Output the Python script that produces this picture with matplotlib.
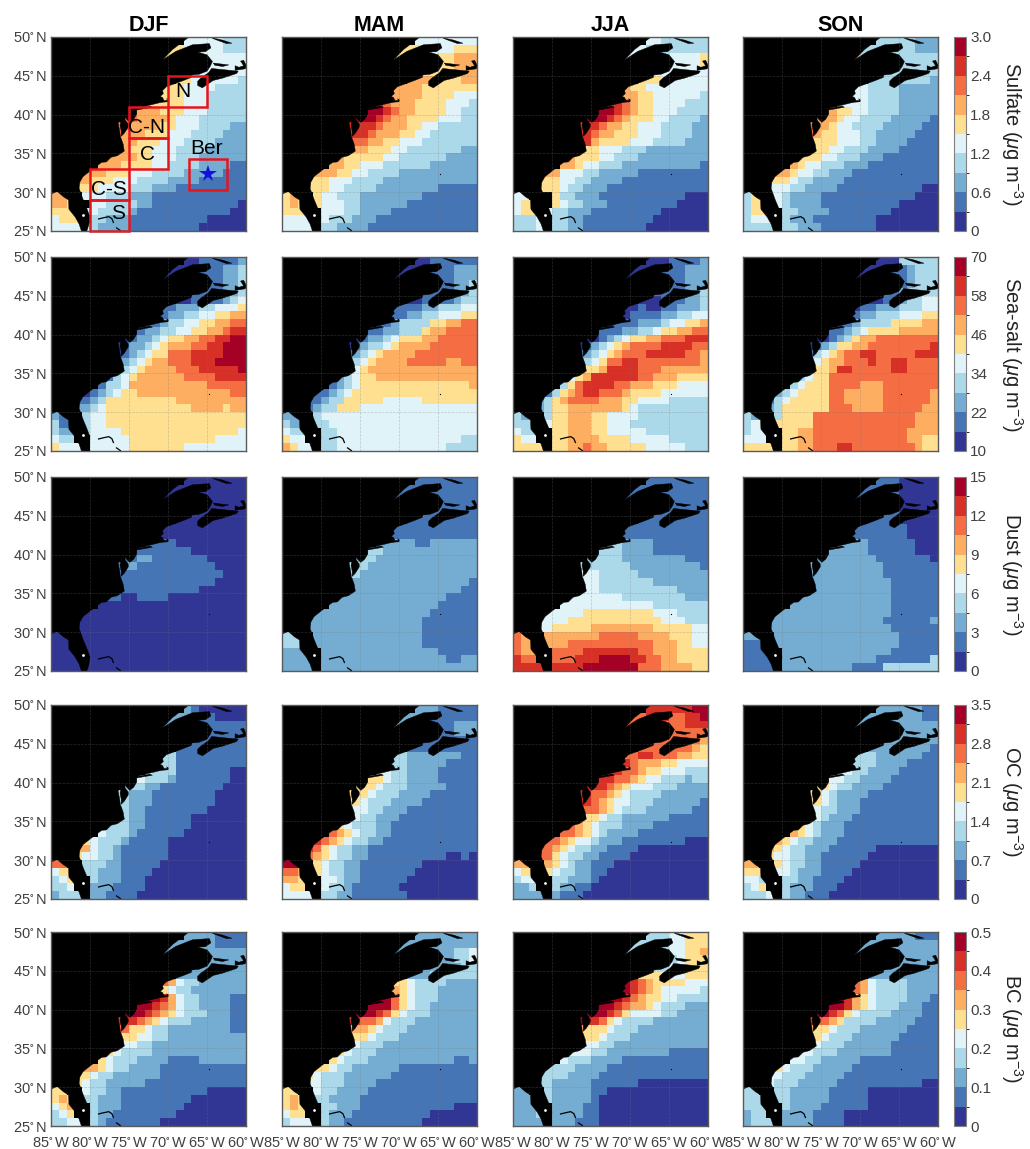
import numpy as np
import matplotlib
matplotlib.use('Agg')
import matplotlib.pyplot as plt
from matplotlib.colors import ListedColormap, BoundaryNorm
from matplotlib.patches import Polygon, Rectangle
from matplotlib.cm import ScalarMappable

plt.rcParams['font.family'] = ['Liberation Sans', 'DejaVu Sans']
plt.rcParams['mathtext.fontset'] = 'custom'
plt.rcParams['mathtext.rm'] = 'Liberation Sans'
plt.rcParams['mathtext.it'] = 'Liberation Sans:italic'
plt.rcParams['mathtext.default'] = 'regular'

# each row is one degree of latitude from 50N down, right aligned at 60W,
# each digit is the colour class read from the map, "." is land
sulfate_djf = ["44444333", "5544444333", "55544444444", "4444444", "4444444", "554444443", "55544443333",
               "555544433333", "5555544433333", "766655544433333", "7766665444333333", "77666655444333322",
               "76665554443333222", "66655544433332222", "66555444333322222", "666655444333222222",
               "6665555443333222211", "666555444333322222111", "6655544433332222111111",
               "5554444333222111111111", "665.444333222111111111111", "665.44333322111111111110",
               "555.4433332111111111111" + "00", "4555.33222111111111100000", "44444322221111111110" + "00000"]
sulfate_mam = ["44444444", "5554444555", "55555555666", "5555666", "5555666", "666655566", "66665555555",
               "666665555444", "8766655554443", "999876655554433", "9998766555544433", "88887666554433333",
               "88876665544333333", "87766554443333333", "66655544333333322", "655555443333332222",
               "6655444333333222222", "666554433332222222222", "5554443333222222222222",
               "5554433332222222211111", "565.54433322222222" + "1111111", "565.5444332222221" + "11111111",
               "555..44433222211111111111", "4444.43332221111111111111", "4444.33222211111111111111"]
sulfate_jja = ["44333333", "4433333333", "44433344445", "4444445", "4444444", "555444444", "65544444444",
               "666554444443", "8876554444333", "999876554443333", "9998765554433332", "88876655444333322",
               "88766555444333322", "88655554443333222", "55544433322222222", "655544333222222222",
               "6654433322222222221", "664443322222111111111", "5554433222211111111111",
               "5554332221111111111111", "44..53322211111111111" + "000", "455.5433222111111111" + "0000",
               "455..433222" + "111111111" + "000000", "3334.33221111111110000000", "3334.33221111111100000000"]
sulfate_son = ["33333222", "3333333222", "53333333333", "3333333", "3333333", "333333332", "44333322222",
               "444333322222", "5444333322222", "665544333322222", "6665443333222221", "76654433332222211",
               "76554443322222111", "65554443322221111", "55544333222211111", "55544333222" + "1111111",
               "6544333222111111111", "665443322211111111111", "5554332222111111111111",
               "44433222211111111111" + "00", "355.4432222111111111111" + "000", "355.44322221111111111" + "00000",
               "355..33222211111111" + "000000", "3444.32221111111100000000", "3333.33222111111100000000"]

seasalt_djf = ["00111112", "0001111223", "00011111223", "1111223", "1111223", "001111234", "11222334445",
               "112233445566", "1123344556677", "112233445566788", "0122345566778899", "01223456667788999",
               "01234557778888999", "12345667778889999", "23456666777888889", "134566666677778888",
               "1334666666666677777", "012345566666666666677", "1123555555555666666666",
               "2234555555555556666566", "211.344" + "5" * 18, "311.344" + "5" * 18,
               "322.34444" + "5" * 15 + "4", "433..44444" + "5" * 11 + "4444", "5444.44444" + "5" * 7 + "4" * 8]
seasalt_mam = ["00111111", "0001111222", "00011111222", "1111223", "1111223", "001111233", "11112233344",
               "111223344455", "1123333556677", "011223335667777", "0122345556677777", "01233456666777777",
               "12345666" + "6" + "77777777", "23456666777776677", "34566666666666666", "234556666666666666",
               "1234555" + "5" * 11 + "6", "112345555555555555555", "1123355555" + "44444" + "5555555",
               "1233555" + "4" * 15, "221.3" + "4" * 20, "322.33" + "4" * 19, "433..33" + "4" * 18,
               "544..33" + "4" * 16 + "33", "6544.33" + "4" * 14 + "3333"]
seasalt_jja = ["00011112", "0001111222", "00011111222", "1111222", "1111223", "000111223", "00100112223",
               "001111223344", "0111222344556", "011122334556677", "0012345566777888", "01234567777888877",
               "12345677788888776", "23457788777777776", "55568888777666666", "456888888776665555",
               "3578888776665554444", "135678877765555444444", "2356777766655444433333",
               "2355666666654" + "333333333", "322.3556665544443" + "33333333", "333.455666554443" + "333333333",
               "433..556665544444" + "33333333", "544..5566665555444443" + "3333", "5555.556676655555444443" + "33"]
seasalt_son = ["00033333", "0001112333", "00011112333", "1112333", "1123333", "001123344", "01122233344",
               "012233344455", "1123333555566", "011234555566666", "0012356677777777", "01235566777777778",
               "13456778877777888", "24566777877887777", "45568877777887777", "3455" + "7" * 14,
               "34555" + "7777" + "666" + "7" * 7, "2345555" + "77" + "66666" + "7" * 6 + "6",
               "13455555" + "77" + "66666" + "7" * 6 + "6", "23555555" + "777" + "6666" + "77777" + "66",
               "322.35555" + "7" * 13 + "666", "344.55555" + "7" * 13 + "666", "344..5566" + "7" * 12 + "6666",
               "444..5566" + "7" * 12 + "6655", "5555.5566" + "777" + "88" + "7" * 8 + "655"]

dust_djf = ["0" * 8, "0" * 10, "0" * 11, "0" * 7, "0" * 7, "0" * 9, "0" * 11, "0" * 12, "1111000000000",
            "111111110000000", "1122111111100000", "12211111111110000", "11111111111111000", "11111111111110000",
            "11111111111000000", "110011110000000000", "0" * 19, "0" * 21, "0" * 22, "0" * 22, "0" * 25,
            "0" * 25, "0" * 25, "0" * 25, "0" * 25]
dust_mam = ["1" * 8, "1" * 10, "1" * 11, "1" * 7, "1" * 7, "1" * 9, "1" * 11, "1" * 12, "2222211222222",
            "233" + "2" * 12, "233" + "2" * 13, "333" + "2" * 14, "33" + "2" * 15, "2" * 16 + "1", "2" * 15 + "11",
            "2" * 14 + "1111", "2" * 14 + "11111", "2" * 15 + "111111", "2" * 15 + "1111111", "2" * 15 + "1111111",
            "333." + "2" * 14 + "1" * 7, "333." + "2" * 14 + "1" * 7, "222.." + "2" * 15 + "11111",
            "2222." + "2" * 16 + "1122", "2222." + "2" * 20]
dust_jja = ["1" * 8, "1" * 10, "1" * 11, "1" * 7, "1" * 7, "1" * 9, "1" * 11, "1" * 12, "3322221111111",
            "333322221111111", "3333322222222111", "33333332222222221", "44433333222222222",
            "44433333332222222", "44433333333332222", "444444433333333222", "4" * 12 + "3" * 7,
            "44444" + "5" * 9 + "4443333", "4444" + "5" * 12 + "444333", "4455555" + "66666666" + "5555544",
            "766." + "6" * 7 + "77777" + "6666" + "55544", "766.666" + "7" * 11 + "666" + "5544",
            "766..7777" + "8" * 7 + "77" + "666" + "5555", "877..777888" + "9999" + "88" + "77" + "66" + "5555",
            "8888.8888" + "9" * 7 + "777" + "6666" + "55"]
dust_son = ["11100000", "1111100000", "11111100000", "1100000", "1100000", "111100000", "11111110000",
            "111111110000", "2222111111000", "222222111111000", "2222222211111110", "22222222221111111",
            "22222222221111111", "22222222222111111", "22222222222111111", "222222222222111111",
            "2222222222222111111", "222222222222222111111", "2222222222222221111112",
            "2222222222222222111111", "222." + "2" * 16 + "11111", "111." + "2" * 16 + "11111",
            "111.." + "2" * 14 + "111111", "1111." + "2" * 12 + "11111113", "1111." + "2" * 9 + "1111" + "3333333"]

oc_djf = ["21000000", "2221110000", "22211111111", "1111111", "1111111", "111111111", "33111111111",
          "333111111111", "4333111111100", "443332111111100", "3332211111111000", "33222111111110000",
          "33222111111110000", "33221111111100000", "33221111110000000", "333221111110000000",
          "4333211111100000000", "543332111110000000000", "6643321111110000000000",
          "5443321111110000000000", "77..33322111110000000" + "0000", "455.3322211110000000" + "00000",
          "345..3222111" + "0" * 13, "334..222" + "1111" + "0" * 13, "2333.221111" + "0" * 14]
oc_mam = ["22211111", "2221111111", "22211111222", "1111222", "1111111", "111111111", "33222222211",
          "333222221111", "4433222211111", "555433222211111", "5554333222221111", "55543332222111111",
          "55433322221111111", "54433222111111111", "54332221111111111", "543332211111111111",
          "7654332211111111111", "876543322111111111111", "8754332211111111111111",
          "7654332211111111110010", "99..543322" + "1" * 8 + "0" * 7, "776.5433221111111" + "0" * 8,
          "665..4432" + "2" + "111111" + "0" * 9, "455..4332" + "111111" + "0" * 10, "4444.3322" + "1" * 7 + "0" * 9]
oc_jja = ["88888899", "7788877889", "77777777888", "7777777", "7777776", "777777765", "77887776655",
          "887666554444", "8877655444333", "888776544333233", "8887654443332222", "88776543333222222",
          "88765443332222221", "87765433322222211", "55543322222211111", "765433322221111111",
          "7765432222111111111", "776544322211111111000", "7765433221111000000000",
          "7754332211110000000000", "66..6543" + "22" + "111" + "0" * 12, "455.5433" + "22" + "11" + "0" * 13,
          "344..33222" + "1" + "0" * 14, "223..3221100" + "0" * 13, "2222.2111" + "0" * 16]
oc_son = ["22222211", "2222222211", "22222222222", "2222222", "2222222", "222222221", "33322222211",
          "433322221111", "4433222211111", "544332222111111", "5543322221111111", "55432222111111111",
          "55432221111111111", "54332221111111111", "54322211111111111", "543222111111111111",
          "6543222111111111111", "654332221111111111111", "6543322211111100000000",
          "5443322111111000000000", "66..5433221111100000" + "00000", "555.4432221111" + "0" * 11,
          "443..33221111" + "0" * 12, "345..3222111" + "0" * 13, "3334.32211100000000000000"]

bc_djf = ["22221111", "2222221111", "22222222222", "2222222", "2222222", "222222222", "76433222222",
          "954332222222", "9986433222211", "999876433222211", "9998765433322211", "88876543332222211",
          "77554332222222211", "65544332222222222", "54433222222222222", "543333222222222222",
          "5433322221111222222", "665433222211111111111", "5543322222211111111111",
          "5433222221111111111111", "55..43322" + "1" * 11 + "00000", "565.33222" + "1" * 9 + "0" * 7,
          "456..3222" + "1" * 8 + "0" * 8, "345..322" + "1" * 8 + "0" * 9, "3344.32" + "1" * 7 + "0" * 11]
bc_mam = ["22222222", "2222222222", "22222222334", "2222334", "2222233", "222333333", "55433332222",
          "665433322222", "9975433322222", "999975433222222", "9998754333222222", "88776433322222222",
          "66654333222222222", "55543332222222222", "54333222222222222", "543332222222222222",
          "5433322222222222112", "554332222221111111111", "5433322222" + "2" + "11111111111",
          "4433322221111111111111", "55..4332222" + "1" * 14, "565.33222" + "2" + "1" * 15,
          "565..33222" + "1" * 12 + "000", "455..3222" + "1" * 10 + "000000", "3444.322" + "1" * 10 + "0" * 7]
bc_jja = ["33344555", "3333344555", "33333344556", "3334555", "3344555", "555444555", "98765555444",
          "998765444443", "9987655443333", "999876654333222", "9998754444332222", "98875433332222222",
          "65554333222222222", "65543332222222222", "54433222222222222", "444332222222211111",
          "4333222211111111111", "333322221111111111111", "3333222211111111111111",
          "3322222111111000000000", "22..3222221100000000000" + "00", "222.322222" + "1" + "0" * 14,
          "222..222211" + "0" * 14, "2223.222211" + "0" * 14, "2222.222111" + "0" * 14]
bc_son = ["22222111", "2222222222", "22222222222", "2222222", "2222222", "222222222", "76433332222",
          "876433332222", "9865433332221", "999865433322211", "9987543333222211", "87765333322222111",
          "65543332222221111", "55433322222211111", "54333222222111111", "443332222222111111",
          "4433222221111111111", "543332222211111111111", "4433322222111111111111",
          "4333222221111111111100", "33..33" + "22222" + "11111" + "0" * 9, "333.33" + "22222" + "11111" + "0" * 9,
          "333..3222211" + "1111" + "0" * 9, "233..22221111" + "0" * 12, "2333.22221111" + "0" * 12]

species = ['Sulfate', 'Sea-salt', 'Dust', 'OC', 'BC']
seasons = ['DJF', 'MAM', 'JJA', 'SON']
panels = [[sulfate_djf, sulfate_mam, sulfate_jja, sulfate_son],
          [seasalt_djf, seasalt_mam, seasalt_jja, seasalt_son],
          [dust_djf, dust_mam, dust_jja, dust_son],
          [oc_djf, oc_mam, oc_jja, oc_son],
          [bc_djf, bc_mam, bc_jja, bc_son]]
vmax = [3.0, 70, 15, 3.5, 0.5]
vmin = [0, 10, 0, 0, 0]
cbar_ticks = [['0', '0.6', '1.2', '1.8', '2.4', '3.0'],
              ['10', '22', '34', '46', '58', '70'],
              ['0', '3', '6', '9', '12', '15'],
              ['0', '0.7', '1.4', '2.1', '2.8', '3.5'],
              ['0', '0.1', '0.2', '0.3', '0.4', '0.5']]
lon_ticks = [-85, -80, -75, -70, -65, -60]
lat_ticks = [25, 30, 35, 40, 45, 50]
colors = ['#313695', '#4575b4', '#74add1', '#abd9e9', '#e0f3f8',
          '#fee090', '#fdae61', '#f46d43', '#d73027', '#a50026']

# coastline, lon/lat
mainland = [(-80.4, 25), (-80.15, 25.8), (-80.0, 26.8), (-80.4, 27.9), (-80.9, 29.1), (-81.4, 30.5), (-81.3, 31.3),
            (-80.9, 32), (-79.9, 32.8), (-79.1, 33.4), (-78.5, 33.85), (-77.9, 33.9), (-77.3, 34.5), (-76.5, 34.7),
            (-75.6, 35.3), (-75.75, 36.2), (-76, 36.9), (-76.1, 37.1), (-76.2, 37.9), (-76.4, 38.9), (-76.1, 39.45),
            (-76.0, 39.4), (-76.15, 38.6), (-76.0, 37.9), (-76.0, 37.2), (-75.6, 37.6), (-75.1, 38.4), (-75.1, 38.8),
            (-75.5, 39.3), (-75.5, 39.7), (-75.3, 39.4), (-74.9, 39), (-74.4, 39.4), (-74, 40.1), (-74, 40.6),
            (-73.7, 40.9), (-72, 41.3), (-71.2, 41.5), (-70.65, 41.6), (-70, 41.65), (-69.95, 41.9), (-70.2, 42.05),
            (-70.05, 41.85), (-70.5, 41.8), (-70.7, 42.2), (-71, 42.35), (-70.6, 42.7), (-70.7, 43.1), (-70.2, 43.6),
            (-69.5, 43.85), (-68.8, 44.1), (-68, 44.4), (-67, 44.8), (-66.95, 45.1), (-66, 45.2), (-65, 45.6),
            (-64.8, 45.9), (-64.6, 46.2), (-64.3, 46.85), (-65, 47.7), (-66.2, 48.06), (-65.2, 48.1), (-64.5, 48.6),
            (-64.7, 49.15), (-66.85, 49), (-69, 48.15), (-70.7, 47.05), (-69.4, 48.4), (-68.35, 49.2), (-67.3, 50),
            (-85, 50), (-85, 29.75), (-84.2, 30.1), (-83.4, 29.4), (-82.75, 29), (-82.7, 27.8), (-81.9, 26.8),
            (-81.4, 25.9), (-81.1, 25)]
nova_scotia = [(-66.2, 43.75), (-65.6, 43.45), (-64.2, 44.4), (-63, 44.7), (-61.2, 45.3), (-61, 45.6), (-62, 45.7),
               (-63.5, 45.85), (-64.4, 45.95), (-64.8, 45.4), (-65.8, 44.7), (-66.2, 44.3)]
long_island = [(-74, 40.6), (-72, 40.95), (-72.3, 41.1), (-73.7, 40.85)]
cape_breton = [(-61.4, 45.7), (-60.1, 45.9), (-59.9, 46.2), (-60.3, 47), (-60.7, 46.9), (-60.3, 46.3), (-60.9, 46.1),
               (-61.4, 46.3)]
pei = [(-64.2, 46.65), (-63, 46.5), (-62.2, 46.4), (-63, 46.2), (-64, 46.35)]
anticosti = [(-64.4, 49.9), (-63, 49.6), (-61.8, 49.2), (-62.5, 49.15), (-64, 49.7)]
land_polys = [mainland, nova_scotia, long_island, cape_breton, pei, anticosti]
bahamas = [[(-78.9, 26.55), (-78.3, 26.7), (-77.6, 26.85), (-77.2, 26.6), (-77.0, 26.1)],
           [(-76.6, 25.4), (-76.1, 25.05)]]

# regions on the first panel: name, lon0, lat0, lon1, lat1, label lon, label lat
regions = [('N', -70, 41, -65, 45, -68.1, 43), ('C-N', -75, 37, -70, 41, -72.7, 38.3),
           ('C', -75, 33, -70, 37, -72.6, 34.8), ('C-S', -80, 29, -75, 33, -77.6, 30.4),
           ('S', -80, 25, -75, 29, -76.4, 27.3), ('Ber', -67.35, 30.3, -62.4, 34.3, -65, 35.6)]

FIG_W, FIG_H = 1030, 1149
col_left = [51, 282, 513, 743]
row_top = [37, 257, 477, 705, 932]
PANEL_W, PANEL_H = 195, 194
GRAY = '#404040'

fig = plt.figure(figsize=(FIG_W / 100, FIG_H / 100), dpi=100)

lon_edges = np.arange(-85, -59)
lat_edges = np.arange(50, 24, -1)
cmap = ListedColormap(colors)


def to_grid(rows, levels):
    grid = np.full((25, 25), np.nan)
    for i, row in enumerate(rows):
        # digits before a "." start at 85W, everything else is aligned at 60W
        if '.' in row:
            left = row[:row.index('.')]
            right = row[row.rindex('.') + 1:]
            row = left + right[-(25 - len(left)):].rjust(25 - len(left), '.')
        row = row.rjust(25, '.')[-25:]
        for j, ch in enumerate(row):
            if ch != '.':
                k = int(ch)
                grid[i, j] = (levels[k] + levels[k + 1]) / 2
    return grid


def px_axes(x, y, w, h):
    return fig.add_axes([x / FIG_W, 1 - (y + h) / FIG_H, w / FIG_W, h / FIG_H])


for r in range(5):
    levels = np.linspace(vmin[r], vmax[r], 11)
    norm = BoundaryNorm(levels, cmap.N)
    for c in range(4):
        ax = px_axes(col_left[c], row_top[r], PANEL_W, PANEL_H)
        ax.set_facecolor('black')
        ax.pcolormesh(lon_edges, lat_edges, to_grid(panels[r][c], levels), cmap=cmap, norm=norm)
        for poly in land_polys:
            ax.add_patch(Polygon(poly, closed=True, fc='black', ec='black', lw=0.3, zorder=2))
        for line in bahamas:
            xs, ys = zip(*line)
            ax.plot(xs, ys, color='black', lw=0.9, zorder=2)
        ax.plot(-64.8, 32.3, 's', color='black', ms=0.8, mew=0, zorder=2)
        ax.plot(-80.9, 27, 'o', color='white', ms=2, mew=0, zorder=3)
        ax.set_xlim(-85, -60)
        ax.set_ylim(25, 50)
        ax.set_xticks(lon_ticks)
        ax.set_yticks(lat_ticks)
        ax.grid(True, color='#777777', ls='--', lw=0.5, alpha=0.35, zorder=4)
        ax.set_axisbelow(False)
        ax.tick_params(length=0, labelsize=10.5, labelcolor=GRAY, pad=3)
        ax.tick_params(axis='x', pad=7)
        ax.set_xticklabels([f'{abs(v)}$^{{\\circ}}\\,$W' for v in lon_ticks] if r == 4 else [])
        ax.set_yticklabels([f'{v}$^{{\\circ}}\\,$N' for v in lat_ticks] if c == 0 else [])
        for s in ax.spines.values():
            s.set_color('#5a5a5a')
            s.set_linewidth(1.0)
            s.set_zorder(6)
        if r == 0:
            ax.set_title(seasons[c], fontsize=15.5, fontweight='bold', pad=4, color='black')
        if r == 0 and c == 0:
            for name, x0, y0, x1, y1, tx, ty in regions:
                ax.add_patch(Rectangle((x0, y0), x1 - x0, y1 - y0, fc='none', ec='#e8141c', lw=1.8, zorder=5,
                                       clip_on=False))
                ax.text(tx, ty, name, fontsize=15, color='black', ha='center', va='center', zorder=7)
            ax.plot(-64.9, 32.4, '*', color='#1010e0', ms=13, mew=0, zorder=7)

    cax = px_axes(954, row_top[r], 12, PANEL_H)
    cb = fig.colorbar(ScalarMappable(norm=norm, cmap=cmap), cax=cax, ticks=levels[::2], spacing='proportional')
    cb.ax.set_yticklabels(cbar_ticks[r])
    cb.ax.tick_params(length=0, labelsize=11, labelcolor=GRAY, pad=3)
    cb.outline.set_edgecolor('#808080')
    cb.outline.set_linewidth(0.8)
    fig.text(1012 / FIG_W, 1 - (row_top[r] + PANEL_H / 2) / FIG_H,
             f'{species[r]} ($\\mathit{{\\mu}}$g m$^{{-3}}$)', rotation=270, fontsize=14.5, color='#222222',
             ha='center', va='center')

fig.savefig('out.png', dpi=100)
